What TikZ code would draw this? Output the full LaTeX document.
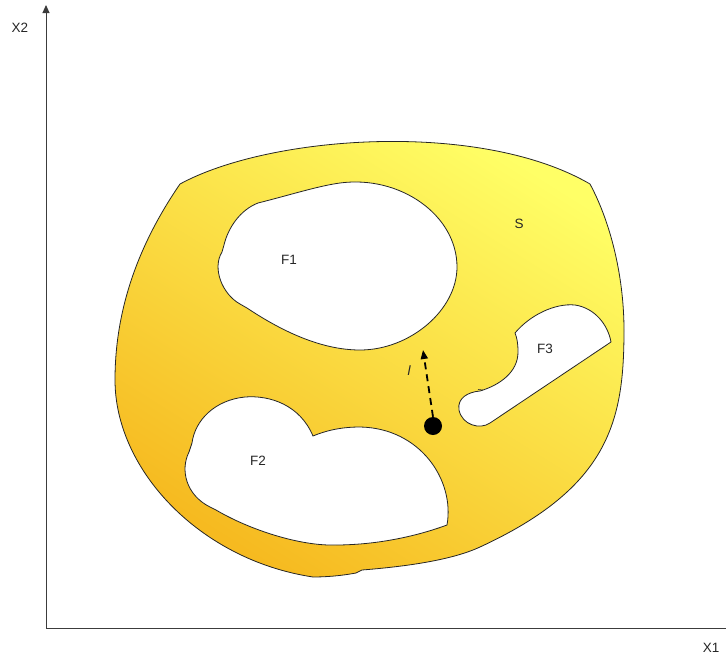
\documentclass[tikz,border=0pt]{standalone}
\usepackage{fontspec}
\setmainfont{Liberation Sans}
\usetikzlibrary{arrows.meta}
\definecolor{ylight}{RGB}{255,255,102}
\definecolor{ymid}{RGB}{252,232,72}
\definecolor{ydark}{RGB}{246,186,32}
\definecolor{axisgray}{RGB}{60,60,60}
\tikzset{
  lbl/.style={font=\fontsize{13.5}{16}\selectfont, text=black!85, inner sep=0pt},
  outline/.style={draw=black!85, line width=0.8pt},
  hole/.style={outline, fill=white},
  axisline/.style={draw=axisgray, line width=0.9pt, -{Triangle[length=8pt,width=7pt]}},
}
\begin{document}
\begin{tikzpicture}[x=1pt,y=-1pt]
\useasboundingbox (0,0) rectangle (726,659);
% region S
\shade[outline, top color=ylight, middle color=ymid, bottom color=ydark, shading angle=-32]
  (180,184) .. controls (270,135) and (480,120) .. (590,184)
  .. controls (612,225) and (624,280) .. (624,330)
  .. controls (624,420) and (610,487) .. (480,547)
  .. controls (450,561) and (400,567) .. (362,570)
  -- (356,573)
  .. controls (340,576) and (325,577) .. (313,577)
  .. controls (200,560) and (115,470) .. (115,380)
  .. controls (115,300) and (145,235) .. (180,184) -- cycle;
% F1
\path[hole] (258,203) .. controls (290,195) and (318,186) .. (340,183)
  .. controls (400,175) and (457,215) .. (457,267)
  .. controls (457,310) and (410,350) .. (360,350)
  .. controls (320,350) and (280,330) .. (247,308)
  -- (240,304)
  .. controls (222,294) and (212,268) .. (222,252)
  -- (224,245)
  .. controls (228,228) and (240,210) .. (258,203) -- cycle;
% F2
\path[hole] (313,436) .. controls (300,405) and (270,395) .. (245,397)
  .. controls (215,400) and (195,420) .. (192,443)
  -- (189,452)
  .. controls (180,470) and (186,495) .. (210,507)
  -- (216,510)
  .. controls (250,530) and (300,546) .. (335,545)
  .. controls (380,545) and (420,535) .. (447,525)
  .. controls (455,480) and (420,428) .. (360,427)
  .. controls (340,427) and (325,431) .. (313,436) -- cycle;
% F3
\path[hole] (515,333) .. controls (530,315) and (555,303) .. (575,305)
  .. controls (595,308) and (608,325) .. (611,342)
  -- (490,423)
  .. controls (480,430) and (462,425) .. (459,410)
  .. controls (457,398) and (468,392) .. (480,391)
  .. controls (500,385) and (518,372) .. (518,352)
  .. controls (518,343) and (517,338) .. (515,333) -- cycle;
\draw[black!85, line width=0.6pt] (478,389.5) -- (483,390);
% axes
\coordinate (O) at (46,628);
\coordinate (ytop) at (46,5);
\coordinate (xend) at (734,628);
\draw[axisline] (O) -- (ytop);
\draw[axisline] (O) -- (xend);
\node[lbl] (X2) at (20,28) {X2};
\node[lbl] (X1) at (711,648) {X1};
% labels
\node[lbl] (S) at (519,224) {S};
\node[lbl] (F1) at (289,260) {F1};
\node[lbl] (F2) at (258,461) {F2};
\node[lbl] (F3) at (545,349) {F3};
\node[lbl, font=\fontsize{13.5}{16}\selectfont\itshape] (l) at (409,371) {l};
% point and direction
\node[circle, fill=black, minimum size=18pt, inner sep=0pt] (P) at (433,426) {};
\coordinate (tip) at (423,350);
\draw[line width=1.8pt, dash pattern=on 7pt off 5pt, -{Triangle[length=9pt,width=7pt]}] (P.north) -- (tip);
\end{tikzpicture}
\end{document}
